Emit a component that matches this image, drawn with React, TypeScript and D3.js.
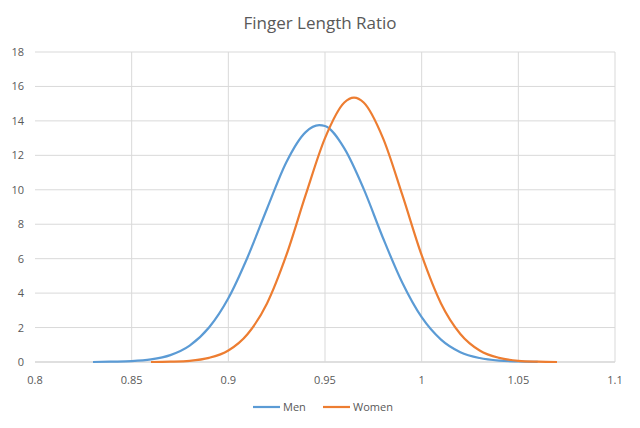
import React from "react";
import * as d3 from "d3";

const menX = [0.83, 0.84, 0.85, 0.86, 0.87, 0.88, 0.89, 0.9, 0.91, 0.92, 0.93, 0.94, 0.947, 0.95, 0.96, 0.97, 0.98, 0.99, 1.0, 1.01, 1.02, 1.03, 1.04, 1.05, 1.06];
const menY = [0.0, 0.02, 0.05, 0.15, 0.4, 0.95, 2.0, 3.7, 6.1, 8.9, 11.6, 13.35, 13.75, 13.7, 12.4, 10.05, 7.2, 4.6, 2.6, 1.3, 0.57, 0.23, 0.08, 0.03, 0.01];
const womenX = [0.86, 0.87, 0.88, 0.89, 0.9, 0.91, 0.92, 0.93, 0.94, 0.95, 0.96, 0.965, 0.97, 0.98, 0.99, 1.0, 1.01, 1.02, 1.03, 1.04, 1.05, 1.06, 1.07];
const womenY = [0.0, 0.02, 0.07, 0.24, 0.67, 1.63, 3.4, 6.2, 9.7, 13.0, 15.07, 15.35, 15.07, 13.0, 9.7, 6.2, 3.4, 1.63, 0.67, 0.24, 0.07, 0.02, 0.0];
const xTicks = [0.8, 0.85, 0.9, 0.95, 1, 1.05, 1.1];
const yTicks = [0, 2, 4, 6, 8, 10, 12, 14, 16, 18];

const font = "'Open Sans', 'Liberation Sans', sans-serif";

export default function App() {
  const x = d3.scaleLinear().domain([0.8, 1.1]).range([35, 615]);
  const y = d3.scaleLinear().domain([0, 18]).range([362, 52]);
  const line = d3.line<number>().curve(d3.curveMonotoneX);
  const path = (xs: number[], ys: number[]) =>
    line.x((_, i) => x(xs[i])).y((d) => y(d))(ys) || "";

  return (
    <svg width={640} height={428} style={{ position: "absolute", left: 0, top: 0, background: "#fff" }}>
      <text x={320} y={29} textAnchor="middle" fontFamily={font} fontSize={17} fill="#595959">
        Finger Length Ratio
      </text>
      {yTicks.map((t) => (
        <g key={"y" + t}>
          <line x1={35} x2={615} y1={y(t)} y2={y(t)} stroke={t === 0 ? "#bfbfbf" : "#d9d9d9"} />
          <text x={24} y={y(t) + 4} textAnchor="end" fontFamily={font} fontSize={11} fill="#595959">{t}</text>
        </g>
      ))}
      {xTicks.map((t) => (
        <g key={"x" + t}>
          {t > 0.8 && <line x1={x(t)} x2={x(t)} y1={52} y2={362} stroke="#d9d9d9" />}
          <text x={x(t)} y={384} textAnchor="middle" fontFamily={font} fontSize={11} fill="#595959">{t}</text>
        </g>
      ))}
      <path d={path(menX, menY)} fill="none" stroke="#5b9bd5" strokeWidth={2.2} />
      <path d={path(womenX, womenY)} fill="none" stroke="#ed7d31" strokeWidth={2.2} />
      <line x1={253} x2={280} y1={407} y2={407} stroke="#5b9bd5" strokeWidth={2.2} />
      <text x={283} y={411} fontFamily={font} fontSize={11} fill="#595959">Men</text>
      <line x1={323} x2={350} y1={407} y2={407} stroke="#ed7d31" strokeWidth={2.2} />
      <text x={353} y={411} fontFamily={font} fontSize={11} fill="#595959">Women</text>
    </svg>
  );
}
